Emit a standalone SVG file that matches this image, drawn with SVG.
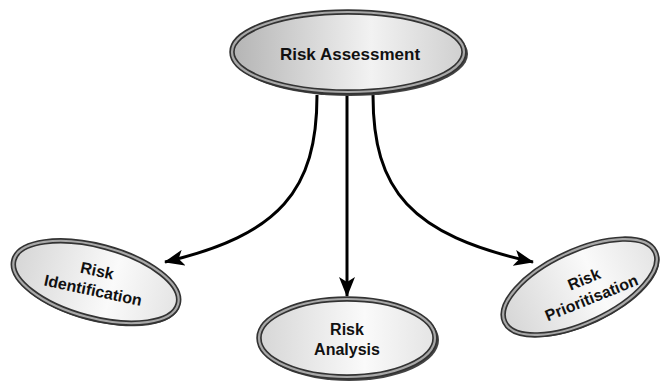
<svg xmlns="http://www.w3.org/2000/svg" width="660" height="381" viewBox="0 0 660 381">
<defs>
<linearGradient id="gTop" x1="0" y1="0" x2="1" y2="0">
<stop offset="0" stop-color="#b4b4b4"/>
<stop offset="0.6" stop-color="#f2f2f2"/>
<stop offset="1" stop-color="#cfcfcf"/>
</linearGradient>
<linearGradient id="gLow" x1="0" y1="0" x2="1" y2="0">
<stop offset="0" stop-color="#d6d6d6"/>
<stop offset="0.6" stop-color="#fafafa"/>
<stop offset="1" stop-color="#e4e4e4"/>
</linearGradient>
<marker id="arr" viewBox="0 0 20 16" refX="19" refY="8" markerWidth="20" markerHeight="16" markerUnits="userSpaceOnUse" orient="auto">
<path d="M0,0 L20,8 L0,16 L5,8 Z" fill="#000"/>
</marker>
<style>
.sh{fill:#444}
.rim{stroke:#333;stroke-width:5.5}
.rim2{fill:none;stroke:#a8a8a8;stroke-width:2.2}
.lbl{font-family:"Liberation Sans",Arial,sans-serif;font-weight:bold;fill:#111;text-anchor:middle}
.con{fill:none;stroke:#000;stroke-width:3}
</style>
</defs>
<rect width="660" height="381" fill="#fff"/>
<g id="connectors">
<path class="con" d="M317,95 C317,190 280,235 165,262" marker-end="url(#arr)"/>
<path class="con" d="M347,95 L347,296" stroke-width="2.5" marker-end="url(#arr)"/>
<path class="con" d="M373,95 C373,190 410,235 533,262" marker-end="url(#arr)"/>
</g>
<g id="risk-assessment">
<ellipse class="sh" cx="350" cy="54" rx="118" ry="42"/>
<ellipse class="rim" cx="348" cy="52" rx="116" ry="40" fill="url(#gTop)"/>
<ellipse class="rim2" cx="348" cy="52" rx="116" ry="40"/>
<text class="lbl" x="350" y="60" font-size="17">Risk Assessment</text>
</g>
<g id="risk-identification">
<g transform="translate(96,282) rotate(15)">
<ellipse class="sh" cx="1" cy="2" rx="86" ry="37"/>
<ellipse class="rim" cx="0" cy="0" rx="85" ry="36" fill="url(#gLow)"/>
<ellipse class="rim2" cx="0" cy="0" rx="85" ry="36"/>
</g>
<g transform="translate(95,281) rotate(12)">
<text class="lbl" x="0" y="-5" font-size="16">Risk</text>
<text class="lbl" x="0" y="15" font-size="16">Identification</text>
</g>
</g>
<g id="risk-analysis">
<ellipse class="sh" cx="349" cy="340" rx="90" ry="41"/>
<ellipse class="rim" cx="347" cy="338" rx="88" ry="39" fill="url(#gLow)"/>
<ellipse class="rim2" cx="347" cy="338" rx="88" ry="39"/>
<text class="lbl" x="347" y="335" font-size="16">Risk</text>
<text class="lbl" x="347" y="355" font-size="16">Analysis</text>
</g>
<g id="risk-prioritisation">
<g transform="translate(580,287) rotate(-25)">
<ellipse class="sh" cx="1" cy="2" rx="84" ry="37"/>
<ellipse class="rim" cx="0" cy="0" rx="83" ry="36" fill="url(#gLow)"/>
<ellipse class="rim2" cx="0" cy="0" rx="83" ry="36"/>
</g>
<g transform="translate(588,289) rotate(-22)">
<text class="lbl" x="0" y="-5" font-size="16">Risk</text>
<text class="lbl" x="0" y="15" font-size="16">Prioritisation</text>
</g>
</g>
</svg>
